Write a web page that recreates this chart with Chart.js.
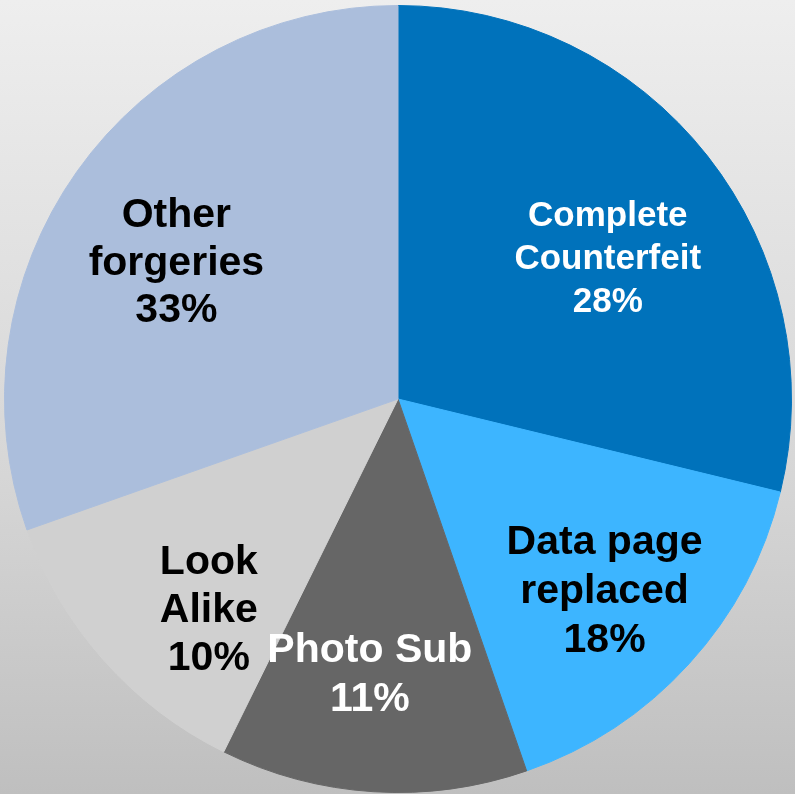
<!DOCTYPE html>
<html>
<head>
<meta charset="utf-8">
<script src="https://cdn.jsdelivr.net/npm/chart.js@4.4.1/dist/chart.umd.min.js"></script>
<style>
    html, body { margin: 0; padding: 0; }
    body {
        width: 795px;
        height: 794px;
        overflow: hidden;
        background: linear-gradient(to bottom, #eeeeee 0%, #d6d6d6 60%, #bfbfbf 100%);
    }
    #wrap { position: relative; width: 795px; height: 794px; }
</style>
</head>
<body>
<div id="wrap"><canvas id="myChart"></canvas></div>
<script>
// slice shares as drawn (clockwise from 12 o'clock)
var categories = [['Complete', 'Counterfeit'], ['Data page', 'replaced'], ['Photo Sub'], ['Look', 'Alike'], ['Other', 'forgeries']];
var shares = [28.8, 15.9, 12.6, 12.3, 30.4];
// percentages as printed on the slices
var printedPct = ['28%', '18%', '11%', '10%', '33%'];

var sliceColors = ['#0072bb', '#3db5ff', '#666666', '#d0d0d0', '#abbedc'];
var textColors = ['#ffffff', '#000000', '#ffffff', '#000000', '#000000'];

// draws the multi-line labels inside each slice
var sliceLabels = {
    id: 'sliceLabels',
    afterDatasetsDraw: function (chart, args, opts) {
        var ctx = chart.ctx;
        var meta = chart.getDatasetMeta(0);
        ctx.save();
        ctx.textAlign = 'center';
        ctx.textBaseline = 'alphabetic';
        meta.data.forEach(function (arc, i) {
            var p = arc.getProps(['x', 'y', 'startAngle', 'endAngle', 'outerRadius'], true);
            var mid = (p.startAngle + p.endAngle) / 2 + opts.angleNudge[i] * Math.PI / 180;
            var r = p.outerRadius * opts.radius[i];
            var cx = p.x + Math.cos(mid) * r;
            var cy = p.y + Math.sin(mid) * r;
            var lines = categories[i].concat([printedPct[i]]);
            var fs = opts.fontSize[i];
            var lh = opts.lineHeight[i];
            var top = cy - (lines.length - 1) * lh / 2;
            ctx.font = 'bold ' + fs + 'px "Liberation Sans", Arial, sans-serif';
            ctx.fillStyle = textColors[i];
            lines.forEach(function (t, k) {
                ctx.fillText(t, cx, top + k * lh + fs * 0.36);
            });
        });
        ctx.restore();
    }
};

var ctx = document.getElementById('myChart').getContext('2d');
var myChart = new Chart(ctx, {
    type: 'pie',
    data: {
        labels: categories.map(function (c) { return c.join(' '); }),
        datasets: [{
            data: shares,
            backgroundColor: sliceColors,
            borderColor: sliceColors,
            borderWidth: 1
        }]
    },
    options: {
        responsive: true,
        maintainAspectRatio: false,
        animation: false,
        layout: { padding: { top: 5, bottom: 1, left: 4, right: 3 } },
        plugins: {
            legend: { display: false },
            tooltip: { enabled: false },
            sliceLabels: {
                radius: [0.645, 0.712, 0.696, 0.714, 0.665],
                angleNudge: [3.9, 0.2, 2.3, -6.1, -3.15],
                fontSize: [35, 41, 41, 41, 41],
                lineHeight: [43, 49, 49, 48, 47.5]
            }
        }
    },
    plugins: [sliceLabels]
});
</script>
</body>
</html>
